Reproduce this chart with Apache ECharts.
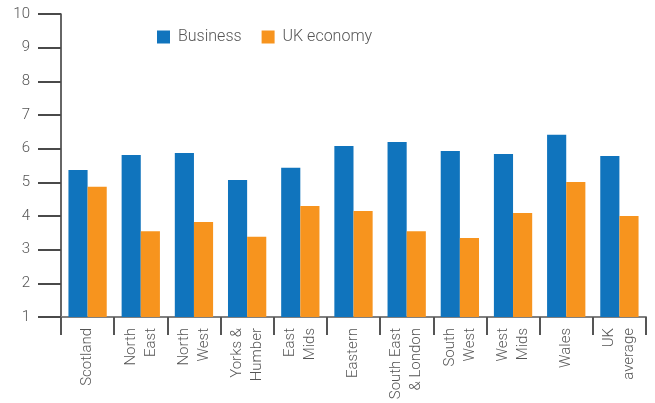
<!DOCTYPE html>
<html>
<head>
<meta charset="utf-8">
<script src="https://cdn.jsdelivr.net/npm/echarts@6/dist/echarts.min.js"></script>
<style>
html,body{margin:0;padding:0;background:#fff;}
#chart{width:655px;height:403px;}
</style>
</head>
<body>
<div id="chart"></div>
<script>
const categories = ['Scotland', 'North\nEast', 'North\nWest', 'Yorks &\nHumber', 'East\nMids', 'Eastern', 'South East\n& London', 'South\nWest', 'West\nMids', 'Wales', 'UK\naverage'];
const business = [5.37, 5.81, 5.87, 5.07, 5.43, 6.08, 6.20, 5.93, 5.84, 6.41, 5.78];
const ukEconomy = [4.87, 3.55, 3.82, 3.38, 4.30, 4.15, 3.55, 3.35, 4.09, 5.01, 4.00];
const seriesNames = ['Business', 'UK economy'];

const textColor = '#555';
const font = 'Roboto';
const chart = echarts.init(document.getElementById('chart'));
chart.setOption({
  animation: false,
  grid: {left: 61, right: 9, top: 14, bottom: 86},
  legend: {
    left: 152, top: 24,
    itemWidth: 13, itemHeight: 13, itemGap: 20,
    icon: 'rect',
    textStyle: {color: textColor, fontSize: 16, fontFamily: font, fontWeight: 300, padding: [0, 0, 0, 3]},
    data: seriesNames
  },
  xAxis: {
    type: 'category',
    data: categories,
    axisLine: {lineStyle: {color: '#808080', width: 2}},
    axisTick: {show: true, inside: false, length: 18, lineStyle: {color: '#555', width: 2}},
    axisLabel: {rotate: 90, interval: 0, margin: 11, color: textColor, fontSize: 15, fontFamily: font, fontWeight: 300, lineHeight: 20}
  },
  yAxis: {
    type: 'value', min: 1, max: 10, interval: 1,
    axisLine: {show: true, lineStyle: {color: '#333', width: 1.5}},
    axisTick: {show: true, inside: false, length: 23, lineStyle: {color: '#4a4a4a', width: 2}},
    splitLine: {show: false},
    axisLabel: {margin: 31, color: textColor, fontSize: 15, fontFamily: font, fontWeight: 300}
  },
  series: [
    {name: seriesNames[0], type: 'bar', data: business, barGap: '0%', barCategoryGap: '28%', itemStyle: {color: '#1074bd'}},
    {name: seriesNames[1], type: 'bar', data: ukEconomy, barGap: '0%', barCategoryGap: '28%', itemStyle: {color: '#f7941e'}}
  ]
});
</script>
</body>
</html>
